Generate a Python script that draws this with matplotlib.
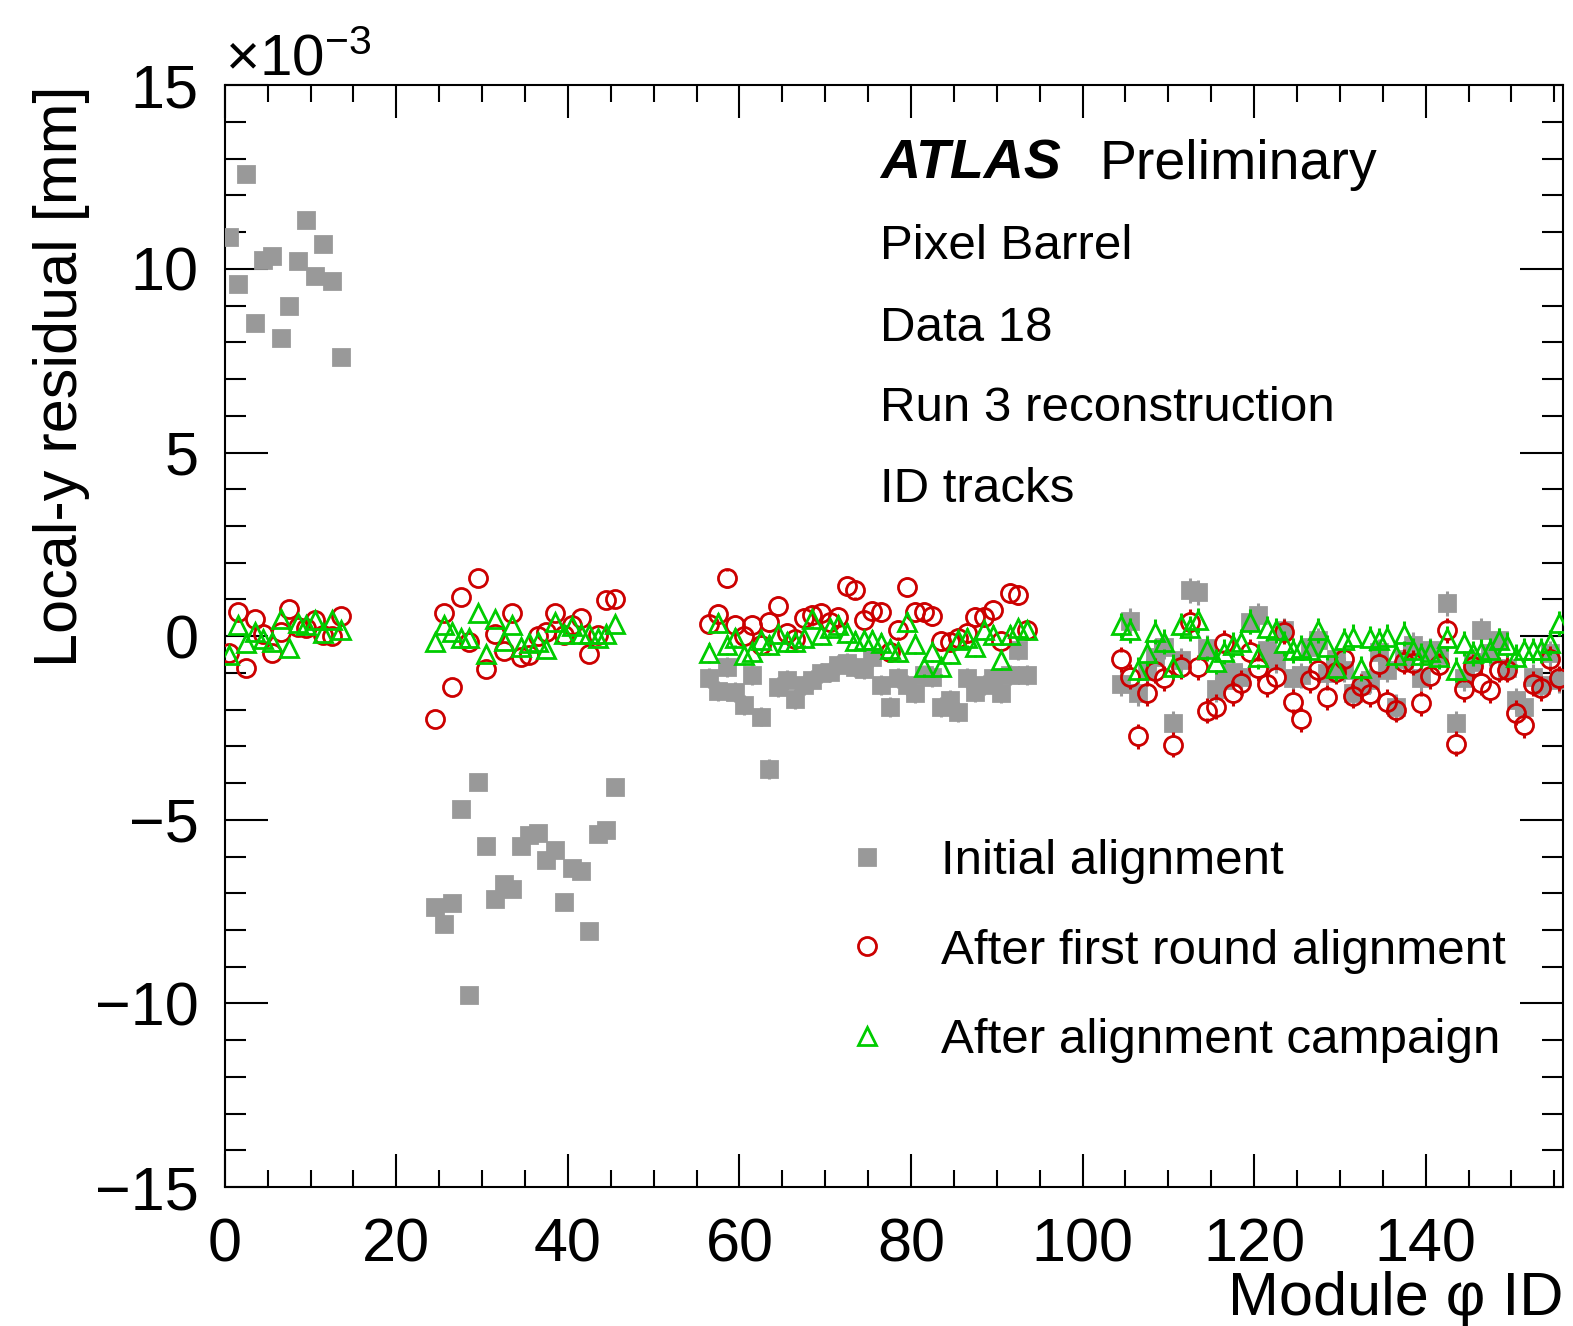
import numpy as np
import matplotlib
matplotlib.use("Agg")
from matplotlib import pyplot as plt
from matplotlib.ticker import MultipleLocator

plt.rcParams['font.family'] = ['Liberation Sans', 'DejaVu Sans']
plt.rcParams['mathtext.default'] = 'regular'

# first module phi ID of each barrel layer (IBL, B-layer, L1, L2)
layer_start = [0, 24, 56, 104]

# local-y residual, units of 1e-3 mm
initial = [
    [10.87, 9.60, 12.59, 8.54, 10.24, 10.35, 8.13, 8.98, 10.22, 11.33, 9.81, 10.69, 9.66, 7.61],
    [-7.38, -7.83, -7.26, -4.70, -9.78, -3.96, -5.71, -7.17, -6.74, -6.88, -5.71, -5.41, -5.35,
     -6.09, -5.82, -7.23, -6.30, -6.39, -8.04, -5.38, -5.27, -4.10],
    [-1.15, -1.49, -0.85, -1.51, -1.88, -1.06, -2.19, -3.62, -1.38, -1.20, -1.72, -1.33, -1.20,
     -1.01, -0.97, -0.79, -0.74, -0.83, -0.90, -0.56, -1.33, -1.94, -1.15, -1.33, -1.56, -1.06,
     -1.11, -1.94, -1.74, -2.06, -1.15, -1.51, -1.33, -1.15, -1.56, -1.06, -0.38, -1.06],
    [-1.29, 0.42, -1.56, -0.95, -0.56, -0.29, -2.37, -0.65, 1.25, 1.20, -0.31, -1.45, -1.20,
     -0.97, -1.11, 0.39, 0.57, -0.38, -0.65, 0.16, -1.15, -1.06, -0.29, -0.11, -1.00, -0.61,
     -0.92, -1.56, -1.33, -1.20, -0.43, -0.92, -1.92, -0.61, -0.24, -1.15, -0.38, -0.52, 0.89,
     -2.37, -1.15, -0.70, 0.16, -0.47, -0.11, -0.87, -1.74, -1.92, -1.11, -1.33, -0.47, -1.20],
]
first_round = [
    [-0.47, 0.66, -0.88, 0.48, 0.07, -0.47, 0.12, 0.73, 0.25, 0.21, 0.43, 0.03, 0.00, 0.54],
    [-2.26, 0.64, -1.38, 1.07, -0.15, 1.57, -0.90, 0.07, -0.40, 0.64, -0.56, -0.52, 0.00,
     0.12, 0.62, 0.03, 0.30, 0.50, -0.49, 0.03, 0.98, 1.02],
    [0.33, 0.60, 1.57, 0.30, 0.00, 0.30, -0.24, 0.39, 0.82, 0.09, -0.09, 0.50, 0.57, 0.63,
     0.39, 0.52, 1.36, 1.27, 0.43, 0.68, 0.66, -0.43, 0.18, 1.34, 0.66, 0.66, 0.54, -0.13,
     -0.15, -0.06, 0.09, 0.52, 0.52, 0.71, -0.13, 1.18, 1.11, 0.16],
    [-0.63, -1.11, -2.72, -1.56, -0.94, -1.15, -2.96, -0.83, 0.39, -0.85, -2.03, -1.92, -0.18,
     -1.56, -1.27, -0.43, -0.88, -1.31, -1.11, 0.12, -1.78, -2.26, -1.20, -0.92, -1.67, -0.97,
     -0.61, -1.63, -1.36, -1.58, -0.76, -1.78, -2.01, -0.70, -0.72, -1.83, -1.09, -0.79, 0.16,
     -2.93, -1.45, -0.82, -1.27, -1.47, -0.92, -0.92, -2.08, -2.42, -1.29, -1.42, -0.61, -1.15],
]
campaign = [
    [-0.52, 0.30, -0.19, 0.12, -0.09, -0.15, 0.48, -0.33, 0.35, 0.30, 0.43, 0.09, 0.43, 0.16],
    [-0.15, 0.30, 0.12, -0.04, -0.04, 0.64, -0.49, 0.48, -0.13, 0.30, -0.29, -0.20, -0.15,
     -0.36, 0.39, 0.07, 0.27, 0.05, 0.07, -0.06, 0.05, 0.33],
    [-0.47, 0.35, -0.24, -0.04, -0.52, -0.43, -0.11, -0.24, 0.05, -0.15, -0.15, -0.04, 0.48,
     0.03, 0.21, 0.30, 0.09, -0.13, -0.11, -0.11, -0.18, -0.36, -0.43, 0.39, -0.22, -0.83,
     -0.43, -0.83, -0.49, -0.11, -0.04, -0.29, 0.16, 0.03, -0.65, 0.03, 0.21, 0.16],
    [0.30, 0.16, -0.92, -0.47, 0.12, -0.15, -0.83, 0.30, 0.21, 0.43, -0.34, -0.70, -0.43,
     -0.24, -0.15, 0.39, -0.56, 0.21, 0.16, -0.20, -0.38, -0.31, -0.38, 0.16, -0.30, -0.88,
     -0.11, -0.02, -0.88, -0.06, -0.11, -0.02, -0.52, 0.07, -0.38, -0.52, -0.43, -0.56, -0.06,
     -0.92, -0.20, -0.47, -0.43, -0.38, -0.11, -0.24, -0.56, -0.38, -0.38, -0.38, -0.18, 0.35],
]
# typical statistical error per layer (1e-3 mm)
layer_err = [0.10, 0.10, 0.27, 0.34]

series = [
    ("Initial alignment", initial, '#999999', dict(marker='s', mfc='#999999', markersize=12)),
    ("After first round alignment", first_round, '#cc0000', dict(marker='o', mfc='none', markersize=13)),
    ("After alignment campaign", campaign, '#00cc00', dict(marker='^', mfc='none', markersize=13)),
]

fig = plt.figure(figsize=(15.73, 13.26), dpi=100)
ax = fig.add_axes([0.1429, 0.1048, 0.8507, 0.8309])

# ROOT style: error bar only drawn outside the marker
marker_half = 0.21

handles = []
for label, values, color, style in series:
    for start, vals, err in zip(layer_start, values, layer_err):
        x = start + np.arange(len(vals)) + 0.5
        v = np.asarray(vals)
        if err > marker_half:
            ax.vlines(x, v + marker_half, v + err, color=color, lw=2.2, zorder=3)
            ax.vlines(x, v - err, v - marker_half, color=color, lw=2.2, zorder=3)
        ln, = ax.plot(x, v, linestyle='none', mec=color, mew=2.0, zorder=3, **style)
    handles.append(ln)

ax.set_xlim(0, 156)
ax.set_ylim(-15, 15)
ax.xaxis.set_major_locator(MultipleLocator(20))
ax.xaxis.set_minor_locator(MultipleLocator(5))
ax.yaxis.set_major_locator(MultipleLocator(5))
ax.yaxis.set_minor_locator(MultipleLocator(1))
ax.tick_params(which='both', direction='in', top=True, right=True, width=1.5, labelsize=44)
ax.tick_params(axis='x', which='major', length=24, pad=22)
ax.tick_params(axis='x', which='minor', length=12)
ax.tick_params(axis='y', which='major', length=31, pad=19)
ax.tick_params(axis='y', which='minor', length=15)
for sp in ax.spines.values():
    sp.set_linewidth(1.5)

ax.set_xlabel(u"Module \u03c6 ID", fontsize=44, loc='right', va='baseline')
ax.xaxis.set_label_coords(1.0, -0.1165)
ax.set_ylabel("Local-y residual [mm]", fontsize=44, loc='top')
ax.yaxis.set_label_coords(-0.101, 1.0)
ax.text(0.0, 1.0092, r"$\times10^{-3}$", transform=ax.transAxes, fontsize=42,
        ha='left', va='baseline')

ax.text(0.490, 0.9153, "ATLAS", transform=ax.transAxes, fontsize=40,
        fontweight='bold', fontstyle='italic', va='baseline')
ax.text(0.6537, 0.9153, "Preliminary", transform=ax.transAxes, fontsize=40, va='baseline')
for yy, txt in zip([0.8425, 0.7679, 0.695, 0.622],
                   ["Pixel Barrel", "Data 18", "Run 3 reconstruction", "ID tracks"]):
    ax.text(0.490, yy, txt, transform=ax.transAxes, fontsize=35.5, va='baseline')

ax.legend(handles, [s[0] for s in series], loc='upper left', bbox_to_anchor=(0.452, 0.3157),
          frameon=False, fontsize=35.5, handlelength=1.5, handletextpad=0.75,
          labelspacing=0.9, borderaxespad=0, borderpad=0)

fig.savefig("out.png", dpi=100)
